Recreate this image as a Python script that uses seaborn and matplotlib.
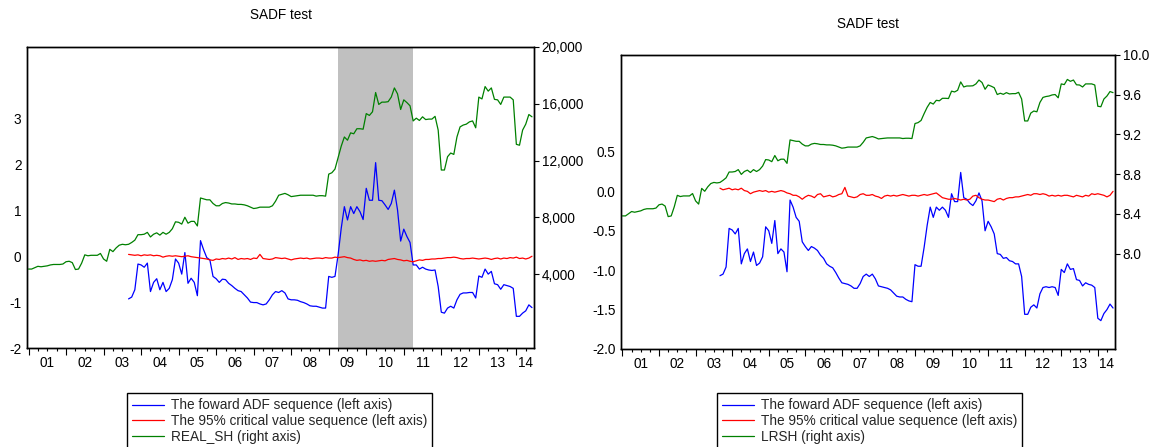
import numpy as np
import pandas as pd
import matplotlib
matplotlib.use("Agg")
import matplotlib.pyplot as plt
import seaborn as sns
from matplotlib.ticker import FixedLocator, FuncFormatter

sns.set_theme(style="white")
plt.rcParams["font.family"] = ["Liberation Sans", "DejaVu Sans"]

# ---- sample: monthly, 2001M01 - 2014M06 ----
months = pd.period_range("2001-01", "2014-06", freq="M")
adf_start = "2003-09"
bubble_period = ("2009-04", "2011-04")

# real Shanghai index level (right axis of the left panel)
real_sh = [
    4360, 4360, 4456, 4553, 4521, 4553, 4586, 4650, 4683, 4683, 4683, 4715,
    4876, 4909, 4812, 4327, 4360, 4780, 5361, 5296, 5329, 5329, 5329, 5458,
    5070, 4909, 5749, 5587, 5845, 6039, 6104, 6072, 6104, 6233, 6395, 6782,
    6782, 6814, 6944, 6621, 6814, 6911, 6750, 6944, 6814, 6944, 7202, 7687,
    7654, 7525, 8010, 7590, 7719, 7719, 7396, 9366, 9302, 9237, 9237, 8979,
    8817, 8817, 8979, 9043, 9010, 8946, 8946, 8914, 8914, 8882, 8817, 8720,
    8623, 8656, 8720, 8720, 8720, 8720, 8817, 9140, 9560, 9624, 9689, 9592,
    9463, 9495, 9528, 9560, 9560, 9560, 9560, 9560, 9495, 9528, 9528, 9495,
    11046, 11143, 11401, 12209, 13016, 13662, 13436, 13953, 13888, 14243, 14243, 14211,
    15309, 15180, 15438, 16795, 15955, 16117, 16117, 16149, 16472, 17118, 16698, 15600,
    16278, 16085, 15858, 14793, 14987, 14825, 15083, 14889, 14922, 14922, 15116, 14147,
    11336, 11336, 12273, 12532, 12435, 13662, 14373, 14502, 14566, 14728, 14793, 14308,
    16472, 16343, 17215, 16892, 17118, 16311, 16278, 15955, 16472, 16472, 16472, 16278,
    13145, 13081, 14147, 14566, 15245, 15083,
]

# log of the real index (right axis of the right panel)
lrsh = [
    8.380, 8.380, 8.402, 8.424, 8.417, 8.424, 8.431, 8.445, 8.452, 8.452, 8.452, 8.459,
    8.492, 8.499, 8.479, 8.373, 8.380, 8.472, 8.587, 8.575, 8.581, 8.581, 8.581, 8.605,
    8.531, 8.499, 8.657, 8.628, 8.673, 8.706, 8.717, 8.712, 8.717, 8.738, 8.763, 8.822,
    8.822, 8.827, 8.846, 8.798, 8.827, 8.841, 8.817, 8.846, 8.827, 8.846, 8.882, 8.947,
    8.943, 8.926, 8.988, 8.935, 8.951, 8.951, 8.909, 9.145, 9.138, 9.131, 9.131, 9.103,
    9.085, 9.085, 9.103, 9.110, 9.106, 9.099, 9.099, 9.095, 9.095, 9.092, 9.085, 9.073,
    9.062, 9.066, 9.073, 9.073, 9.073, 9.073, 9.085, 9.121, 9.165, 9.172, 9.179, 9.169,
    9.155, 9.159, 9.162, 9.165, 9.165, 9.165, 9.165, 9.165, 9.159, 9.162, 9.162, 9.159,
    9.310, 9.319, 9.341, 9.410, 9.474, 9.522, 9.506, 9.544, 9.539, 9.564, 9.564, 9.562,
    9.636, 9.628, 9.645, 9.729, 9.678, 9.688, 9.688, 9.690, 9.709, 9.748, 9.723, 9.655,
    9.698, 9.686, 9.671, 9.602, 9.615, 9.604, 9.621, 9.608, 9.611, 9.611, 9.624, 9.557,
    9.336, 9.336, 9.415, 9.436, 9.428, 9.522, 9.573, 9.582, 9.587, 9.598, 9.602, 9.569,
    9.709, 9.702, 9.754, 9.735, 9.748, 9.700, 9.698, 9.678, 9.709, 9.709, 9.709, 9.698,
    9.484, 9.479, 9.557, 9.587, 9.632, 9.621,
]

# forward ADF statistics on the level series, from 2003M09
adf_real = [
    -0.93, -0.89, -0.73, -0.17, -0.19, -0.24, -0.15, -0.77, -0.57,
    -0.49, -0.73, -0.57, -0.77, -0.70, -0.51, -0.06, -0.15, -0.39, 0.08,
    -0.59, -0.48, -0.57, -0.86, 0.34, 0.14, -0.03, -0.08, -0.44, -0.49,
    -0.57, -0.50, -0.51, -0.59, -0.64, -0.70, -0.75, -0.77, -0.84, -0.91,
    -1.00, -1.01, -1.01, -1.04, -1.06, -1.04, -0.95, -0.84, -0.77, -0.79,
    -0.75, -0.80, -0.93, -0.95, -0.95, -0.96, -0.99, -1.01, -1.04, -1.08,
    -1.09, -1.09, -1.11, -1.13, -1.13, -0.44, -0.46, -0.44, 0.03, 0.61,
    1.08, 0.79, 1.08, 0.93, 1.08, 0.97, 0.80, 1.48, 1.22, 1.22,
    2.04, 1.22, 1.21, 1.12, 1.02, 1.15, 1.44, 1.01, 0.33, 0.59,
    0.43, 0.30, -0.19, -0.19, -0.28, -0.24, -0.28, -0.30, -0.31, -0.30,
    -0.66, -1.22, -1.24, -1.13, -1.09, -1.13, -0.95, -0.83, -0.80, -0.80,
    -0.79, -0.79, -0.91, -0.43, -0.46, -0.28, -0.39, -0.33, -0.60, -0.62,
    -0.72, -0.62, -0.64, -0.66, -0.70, -1.31, -1.31, -1.24, -1.19, -1.06, -1.12,
]

# 95% critical values for the level series
cv_real = [
    0.04, 0.03, 0.02, 0.03, 0.01, 0.03, 0.02, 0.03, 0.01,
    0.02, 0.01, -0.02, 0.00, 0.01, 0.00, 0.01, 0.00, -0.01, 0.00,
    0.01, -0.01, -0.02, -0.03, -0.04, -0.05, -0.06, -0.08, -0.09, -0.06,
    -0.07, -0.05, -0.06, -0.04, -0.06, -0.03, -0.07, -0.05, -0.06, -0.05,
    -0.07, -0.04, -0.05, 0.04, -0.05, -0.06, -0.07, -0.06, -0.03, -0.04,
    -0.05, -0.04, -0.06, -0.08, -0.06, -0.05, -0.04, -0.05, -0.04, -0.06,
    -0.05, -0.04, -0.04, -0.05, -0.03, -0.04, -0.04, -0.02, -0.03, -0.02,
    -0.01, -0.03, -0.04, -0.07, -0.09, -0.08, -0.10, -0.09, -0.11, -0.10,
    -0.11, -0.10, -0.09, -0.10, -0.07, -0.06, -0.05, -0.07, -0.08, -0.10,
    -0.09, -0.11, -0.12, -0.10, -0.08, -0.09, -0.07, -0.07, -0.06, -0.06,
    -0.05, -0.05, -0.04, -0.03, -0.03, -0.02, -0.03, -0.05, -0.06, -0.05,
    -0.05, -0.04, -0.05, -0.06, -0.05, -0.04, -0.05, -0.07, -0.05, -0.04,
    -0.06, -0.04, -0.05, -0.03, -0.04, -0.02, -0.05, -0.04, -0.06, -0.04, 0.00,
]

# forward ADF statistics on the log series, from 2003M09
adf_log = [
    -1.07, -1.05, -0.96, -0.47, -0.49, -0.54, -0.47, -0.92, -0.79,
    -0.73, -0.89, -0.77, -0.94, -0.91, -0.83, -0.45, -0.50, -0.66, -0.37,
    -0.79, -0.73, -0.77, -1.02, -0.11, -0.20, -0.33, -0.38, -0.64, -0.70,
    -0.75, -0.70, -0.72, -0.75, -0.81, -0.85, -0.92, -0.95, -0.97, -1.03,
    -1.10, -1.16, -1.17, -1.18, -1.20, -1.23, -1.23, -1.17, -1.08, -1.05,
    -1.08, -1.05, -1.11, -1.20, -1.21, -1.22, -1.23, -1.25, -1.29, -1.33,
    -1.34, -1.34, -1.37, -1.39, -1.40, -0.93, -0.95, -0.95, -0.71, -0.43,
    -0.20, -0.33, -0.20, -0.24, -0.20, -0.24, -0.33, -0.03, -0.13, -0.13,
    0.24, -0.08, -0.10, -0.15, -0.18, -0.12, -0.02, -0.12, -0.50, -0.38,
    -0.45, -0.54, -0.79, -0.80, -0.85, -0.84, -0.88, -0.89, -0.92, -0.92,
    -1.08, -1.56, -1.56, -1.47, -1.44, -1.48, -1.30, -1.22, -1.21, -1.22,
    -1.21, -1.22, -1.32, -0.99, -1.03, -0.92, -0.99, -0.98, -1.12, -1.13,
    -1.20, -1.16, -1.18, -1.19, -1.22, -1.61, -1.64, -1.55, -1.50, -1.43, -1.48,
]

# 95% critical values for the log series
cv_log = [
    0.04, 0.02, 0.03, 0.04, 0.02, 0.03, 0.02, 0.04, 0.01,
    0.00, -0.03, -0.01, 0.00, 0.01, 0.00, 0.01, -0.01, 0.00, -0.01,
    0.00, 0.01, 0.00, -0.02, -0.03, -0.05, -0.05, -0.07, -0.10, -0.07,
    -0.05, -0.06, -0.08, -0.04, -0.03, -0.07, -0.06, -0.05, -0.07, -0.06,
    -0.04, -0.03, 0.05, -0.06, -0.07, -0.08, -0.07, -0.04, -0.03, -0.05,
    -0.05, -0.04, -0.06, -0.07, -0.09, -0.06, -0.05, -0.06, -0.05, -0.06,
    -0.05, -0.04, -0.05, -0.06, -0.05, -0.05, -0.06, -0.05, -0.04, -0.05,
    -0.04, -0.03, -0.02, -0.05, -0.08, -0.09, -0.10, -0.10, -0.09, -0.10,
    -0.11, -0.10, -0.11, -0.10, -0.06, -0.05, -0.08, -0.10, -0.11, -0.11,
    -0.12, -0.13, -0.10, -0.09, -0.11, -0.09, -0.08, -0.08, -0.07, -0.07,
    -0.06, -0.05, -0.04, -0.05, -0.03, -0.03, -0.04, -0.03, -0.04, -0.06,
    -0.05, -0.06, -0.05, -0.06, -0.05, -0.05, -0.06, -0.07, -0.05, -0.06,
    -0.07, -0.05, -0.06, -0.03, -0.04, -0.03, -0.04, -0.05, -0.07, -0.05, 0.00,
]

year_labels = ["01", "02", "03", "04", "05", "06", "07", "08", "09", "10", "11", "12", "13", "14"]
legend_adf = "The foward ADF sequence (left axis)"
legend_cv = "The 95% critical value sequence (left axis)"

BLUE, RED, GREEN = "#0000FF", "#FF0000", "#008000"
SHADE = "#C0C0C0"
FS = 9.8


def decimal_year(periods):
    return np.asarray(periods.year + (periods.month - 1) / 12.0, dtype=float)


t_all = decimal_year(months)
t_adf = decimal_year(months[months >= pd.Period(adf_start, "M")])
XMIN, XMAX = 2000.96, 2014.47


def style_time_axis(ax):
    years = np.arange(2001, 2015)
    quarters = [y + q / 4 for y in years for q in (1, 2, 3) if y + q / 4 < XMAX]
    ax.set_xlim(XMIN, XMAX)
    ax.xaxis.set_major_locator(FixedLocator(years))
    ax.xaxis.set_minor_locator(FixedLocator(quarters))
    ax.tick_params(axis="x", which="major", direction="out", length=4.8, width=0.8,
                   color="black", labelbottom=False, bottom=True)
    ax.tick_params(axis="x", which="minor", direction="out", length=2.4, width=0.8,
                   color="black", bottom=True)
    centers = [y + 0.5 for y in years[:-1]] + [(years[-1] + XMAX) / 2]
    sec = ax.secondary_xaxis("bottom")
    sec.set_xticks(centers)
    sec.set_xticklabels(year_labels)
    sec.tick_params(length=0, pad=5.5, labelsize=FS, labelcolor="black")
    sec.spines["bottom"].set_visible(False)


def draw_panel(rect, level, level_name, adf, cv, ylim_l, ylim_r, lticks, rticks,
               lfmt, rfmt, title_xy, legend_xy, shade=None):
    ax = fig.add_axes(rect)
    ax2 = ax.twinx()
    ax.set_zorder(1)
    ax2.set_zorder(2)
    ax.patch.set_visible(False)

    if shade is not None:
        s0 = decimal_year(pd.period_range(shade[0], shade[0], freq="M"))[0]
        s1 = decimal_year(pd.period_range(shade[1], shade[1], freq="M"))[0]
        ax.axvspan(s0, s1, color=SHADE, lw=0, zorder=0)

    sns.lineplot(x=t_adf, y=adf, ax=ax, color=BLUE, linewidth=0.9, legend=False)
    h_adf = ax.lines[-1]
    sns.lineplot(x=t_adf, y=cv, ax=ax, color=RED, linewidth=0.9, legend=False)
    h_cv = ax.lines[-1]
    sns.lineplot(x=t_all, y=level, ax=ax2, color=GREEN, linewidth=0.9, legend=False)
    h_lvl = ax2.lines[-1]

    ax.set_ylim(*ylim_l)
    ax2.set_ylim(*ylim_r)
    ax.yaxis.set_major_locator(FixedLocator(lticks))
    ax.yaxis.set_major_formatter(FuncFormatter(lfmt))
    ax2.yaxis.set_major_locator(FixedLocator(rticks))
    ax2.yaxis.set_major_formatter(FuncFormatter(rfmt))
    ax.tick_params(axis="y", length=0, pad=4, labelsize=FS, labelcolor="black")
    ax2.tick_params(axis="y", direction="out", length=3.6, width=0.8, pad=2,
                    labelsize=FS, labelcolor="black", color="black")
    for a in (ax, ax2):
        a.set_xlabel("")
        a.set_ylabel("")
        a.grid(False)
        for sp in a.spines.values():
            sp.set_color("black")
            sp.set_linewidth(1.0)
    style_time_axis(ax)
    ax2.set_xlim(XMIN, XMAX)
    ax2.tick_params(axis="x", bottom=False, labelbottom=False)

    fig.text(title_xy[0], title_xy[1], "SADF test", ha="center", va="center",
             fontsize=FS, color="black")

    fig.legend([h_adf, h_cv, h_lvl], [legend_adf, legend_cv, level_name],
               loc="upper left", bbox_to_anchor=legend_xy, bbox_transform=fig.transFigure,
               borderaxespad=0, frameon=True, fancybox=False, edgecolor="black",
               framealpha=1, fontsize=FS, handlelength=2.35, handletextpad=0.45,
               borderpad=0.4, labelspacing=0.12)
    return ax, ax2


W, H = 1159, 447
fig = plt.figure(figsize=(W / 100, H / 100), dpi=100)

draw_panel([27 / W, 1 - 348 / H, 507 / W, 301 / H], real_sh, "REAL_SH (right axis)",
           adf_real, cv_real, (-2, 4.56), (-1200, 20000),
           [-2, -1, 0, 1, 2, 3], [4000, 8000, 12000, 16000, 20000],
           lambda v, p: f"{v:.0f}", lambda v, p: f"{v:,.0f}",
           (280.5 / W, 1 - 15 / H), (127 / W, 1 - 393 / H), shade=bubble_period)

draw_panel([621 / W, 1 - 349 / H, 494 / W, 294 / H], lrsh, "LRSH (right axis)",
           adf_log, cv_log, (-2.0, 1.73), (7.04, 10.0),
           [-2.0, -1.5, -1.0, -0.5, 0.0, 0.5], [8.0, 8.4, 8.8, 9.2, 9.6, 10.0],
           lambda v, p: f"{v:.1f}", lambda v, p: f"{v:.1f}",
           (868 / W, 1 - 24 / H), (717 / W, 1 - 393 / H))

fig.savefig("out.png", dpi=100)
